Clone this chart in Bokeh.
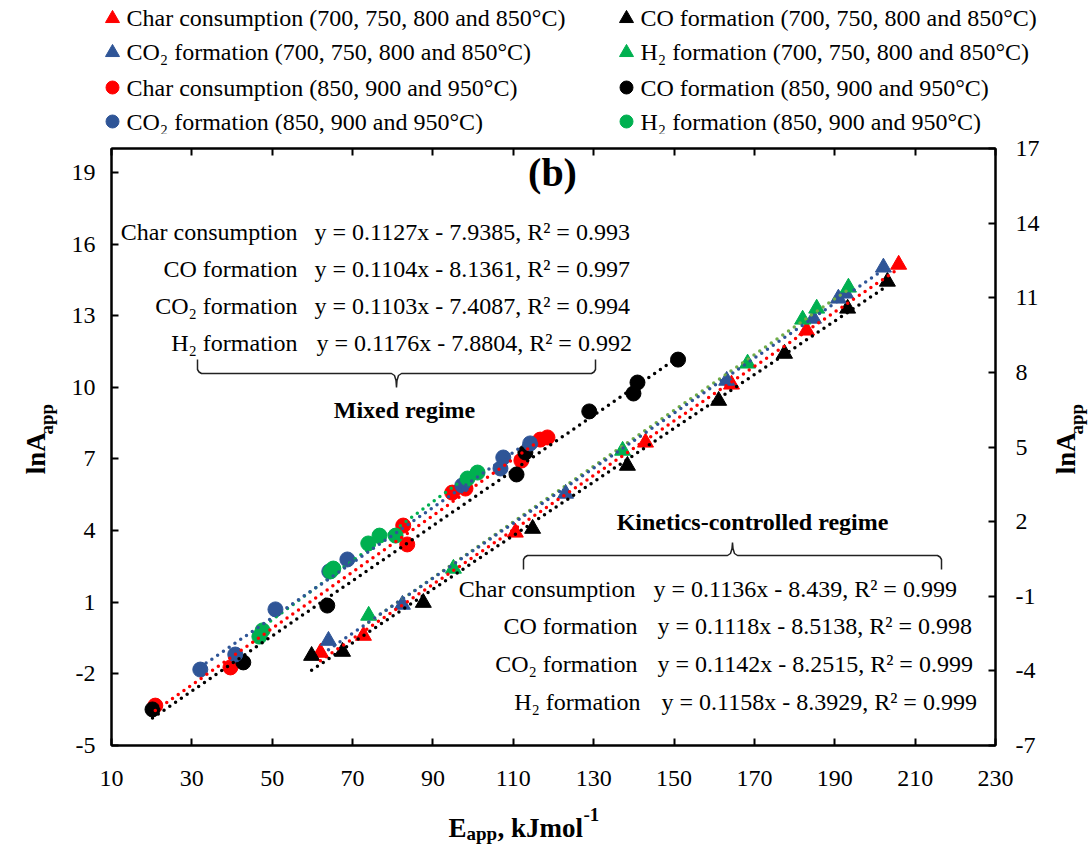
import numpy as np
from bokeh.plotting import figure
from bokeh.layouts import column, row
from bokeh.models import (Range1d, LinearAxis, FixedTicker, Label)
from bokeh.embed import file_html
from bokeh.resources import INLINE

# ---------------- data ----------------
# Kinetics-controlled regime (700, 750, 800 and 850 °C) -> triangles
char_t_x = [62.0, 72.7, 110.5, 142.9, 164.3, 183.0, 205.9]
char_t_y = [-1.11, -0.40, 3.92, 7.69, 10.12, 12.38, 15.14]
co_t_x = [59.8, 67.5, 87.6, 114.8, 138.4, 161.1, 177.5, 193.2, 203.1]
co_t_y = [-1.24, -1.07, 0.98, 4.08, 6.72, 9.44, 11.41, 13.30, 14.43]
co2_t_x = [64.0, 82.4, 123.0, 163.1, 184.7, 190.9, 192.7, 202.1]
co2_t_y = [-0.61, 0.90, 5.55, 10.28, 12.88, 13.72, 13.93, 15.02]
h2_t_x = [74.0, 95.1, 137.2, 168.3, 182.0, 185.5, 193.4]
h2_t_y = [0.44, 2.41, 7.35, 11.00, 12.84, 13.30, 14.18]

# Mixed regime (850, 900 and 950 °C) -> circles
char_c_x = [20.9, 39.6, 82.6, 83.6, 94.8, 98.1, 112.0, 116.7, 118.5]
char_c_y = [-3.33, -1.73, 4.21, 3.42, 5.59, 5.76, 6.93, 7.81, 7.90]
co_c_x = [20.2, 42.8, 63.7, 110.8, 113.0, 128.9, 139.9, 140.9, 151.0]
co_c_y = [-3.49, -1.52, 0.86, 6.35, 7.27, 8.99, 9.74, 10.20, 11.16]
co2_c_x = [32.1, 40.8, 50.8, 64.2, 68.7, 97.3, 106.8, 107.5, 114.2]
co2_c_y = [-1.82, -1.19, 0.70, 2.29, 2.79, 5.89, 6.60, 7.06, 7.65]
h2_c_x = [46.8, 47.6, 64.5, 65.2, 73.9, 76.7, 80.7, 98.6, 101.1]
h2_c_y = [-0.44, -0.18, 2.29, 2.41, 3.46, 3.79, 3.79, 6.18, 6.43]

# legend entries, in reading order (two columns)
legend_col1 = ["Char consumption (700, 750, 800 and 850°C)",
               "CO₂ formation (700, 750, 800 and 850°C)",
               "Char consumption (850, 900 and 950°C)",
               "CO₂ formation (850, 900 and 950°C)"]
legend_col2 = ["CO formation (700, 750, 800 and 850°C)",
               "H₂ formation (700, 750, 800 and 850°C)",
               "CO formation (850, 900 and 950°C)",
               "H₂ formation (850, 900 and 950°C)"]

species = ["Char consumption", "CO formation", "CO₂ formation", "H₂ formation"]
eq_mixed = ["y = 0.1127x - 7.9385, R² = 0.993",
            "y = 0.1104x - 8.1361, R² = 0.997",
            "y = 0.1103x - 7.4087, R² = 0.994",
            "y = 0.1176x - 7.8804, R² = 0.992"]
eq_kin = ["y = 0.1136x - 8.439, R² = 0.999",
          "y = 0.1118x - 8.5138, R² = 0.998",
          "y = 0.1142x - 8.2515, R² = 0.999",
          "y = 0.1158x - 8.3929, R² = 0.999"]

x_ticks = [10, 30, 50, 70, 90, 110, 130, 150, 170, 190, 210, 230]
y_left_ticks = [-5, -2, 1, 4, 7, 10, 13, 16, 19]
y_right_ticks = [-7, -4, -1, 2, 5, 8, 11, 14, 17]

# ---------------- styling ----------------
RED, BLACK, BLUE, GREEN, OLIVE = "#ff0000", "#000000", "#2f5597", "#00b050", "#70ad47"
FONT = "Liberation Serif"

W, H = 1091, 845
LEG_H = 134            # legend strip height
BOT_H = 45             # bottom title strip height
LEFT_W, RIGHT_W = 62, 41
MAIN_W = W - LEFT_W - RIGHT_W
MAIN_H = H - LEG_H - BOT_H
FL, FR, FT, FB = 111, 995, 148, 745  # frame edges in page pixels
X0, X1, Y0, Y1 = 10, 230, -5, 20


def px2x(px):
    return X0 + (px - FL) * (X1 - X0) / (FR - FL)


def py2y(py):
    return Y1 - (py - FT) * (Y1 - Y0) / (FB - FT)


p = figure(width=MAIN_W, height=MAIN_H, output_backend="svg", toolbar_location=None,
           x_range=Range1d(X0, X1), y_range=Range1d(Y0, Y1),
           min_border_left=FL - LEFT_W, min_border_right=(W - RIGHT_W) - FR,
           min_border_top=FT - LEG_H, min_border_bottom=(H - BOT_H) - FB)
p.extra_x_ranges = {"top": Range1d(X0, X1)}
p.extra_y_ranges = {"right": Range1d(-7, 17)}
p.grid.visible = False
p.outline_line_color = "black"
p.outline_line_width = 2
p.background_fill_color = "white"
p.border_fill_color = "white"


def style_axis(ax, ticks):
    ax.ticker = FixedTicker(ticks=ticks)
    ax.axis_line_width = 2
    ax.axis_line_color = "black"
    ax.major_tick_line_width = 2
    ax.major_tick_line_color = "black"
    ax.major_tick_in = 7
    ax.major_tick_out = 0
    ax.minor_tick_line_color = None
    ax.major_label_text_font = FONT
    ax.major_label_text_font_size = "24px"
    ax.major_label_text_color = "black"
    ax.major_label_overrides = {t: str(t) for t in ticks}


xb = p.xaxis[0]
style_axis(xb, x_ticks)
xb.major_label_standoff = 25

yl = p.yaxis[0]
style_axis(yl, y_left_ticks)
yl.major_label_standoff = 16

yr = LinearAxis(y_range_name="right")
style_axis(yr, y_right_ticks)
yr.major_label_standoff = 20
p.add_layout(yr, "right")

xt = LinearAxis(x_range_name="top")
style_axis(xt, x_ticks)
xt.major_label_overrides = {t: "" for t in x_ticks}
xt.major_label_text_font_size = "0px"
xt.major_label_standoff = 0
p.add_layout(xt, "above")

# ---------------- markers ----------------
TS, CS = 16, 15
p.scatter(char_t_x, char_t_y, marker="triangle", size=TS, color=RED)
p.scatter(co_t_x, co_t_y, marker="triangle", size=TS, color=BLACK)
p.scatter(co2_t_x, co2_t_y, marker="triangle", size=TS, color=BLUE)
p.scatter(h2_t_x, h2_t_y, marker="triangle", size=TS, color=GREEN)
p.scatter(char_c_x, char_c_y, marker="circle", size=CS, color=RED)
p.scatter(co_c_x, co_c_y, marker="circle", size=CS, color=BLACK)
p.scatter(co2_c_x, co2_c_y, marker="circle", size=CS, color=BLUE)
p.scatter(h2_c_x, h2_c_y, marker="circle", size=CS, color=GREEN)


# ---------------- dotted linear trendlines (fitted to the data) ----------------
def trend(xs, ys, color):
    k, b = np.polyfit(xs, ys, 1)
    xx = np.array([min(xs), max(xs)])
    p.line(xx, k * xx + b, line_color=color, line_width=3.5,
           line_dash="0 7", line_cap="round")


trend(h2_c_x, h2_c_y, GREEN)
trend(co2_c_x, co2_c_y, BLUE)
trend(char_c_x, char_c_y, RED)
trend(co_c_x, co_c_y, BLACK)
trend(h2_t_x, h2_t_y, OLIVE)
trend(co2_t_x, co2_t_y, BLUE)
trend(char_t_x, char_t_y, RED)
trend(co_t_x, co_t_y, BLACK)


# ---------------- braces ----------------
def brace(xl, xr, yline, yhook, ytip):
    xc = (xl + xr) / 2
    s = 1 if yhook < yline else -1
    pts = [(xl, yhook), (xl, yline - s * 4), (xl + 1.5, yline - s * 1.5), (xl + 4, yline),
           (xc - 5, yline), (xc - 2, yline + s * 2), (xc - 0.5, yline + s * 7), (xc, ytip),
           (xc + 0.5, yline + s * 7), (xc + 2, yline + s * 2), (xc + 5, yline),
           (xr - 4, yline), (xr - 1.5, yline - s * 1.5), (xr, yline - s * 4), (xr, yhook)]
    p.line([px2x(a) for a, _ in pts], [py2y(b) for _, b in pts],
           line_color="#222222", line_width=1.5)


brace(197, 595, 373, 359, 387)   # mixed regime
brace(523, 941, 555, 569, 542)   # kinetics regime


# ---------------- texts inside the frame ----------------
def lab(px, py, text, size="24px", align="left", bold=False):
    p.add_layout(Label(x=px2x(px), y=py2y(py), text=text, text_font=FONT,
                       text_font_size=size, text_align=align, text_baseline="middle",
                       text_font_style="bold" if bold else "normal", text_color="black"))


lab(552, 172, "(b)", size="40px", align="center", bold=True)

mixed_rows = [231, 268, 305, 342]
mixed_eq_x = [314, 314, 314, 316]
for i in range(4):
    lab(297, mixed_rows[i], species[i], align="right")
    lab(mixed_eq_x[i], mixed_rows[i], eq_mixed[i])
lab(404, 409, "Mixed regime", align="center", bold=True)

kin_rows = [588, 625, 663, 701]
kin_lab_x = [635, 637, 637, 640]
kin_eq_x = [653, 657, 657, 661]
for i in range(4):
    lab(kin_lab_x[i], kin_rows[i], species[i], align="right")
    lab(kin_eq_x[i], kin_rows[i], eq_kin[i])
lab(752, 521, "Kinetics-controlled regime", align="center", bold=True)


# ---------------- helper strips (legend, axis titles) ----------------
def strip(w, h):
    f = figure(width=w, height=h, x_range=Range1d(0, w), y_range=Range1d(h, 0),
               output_backend="svg", toolbar_location=None,
               x_axis_location=None, y_axis_location=None, min_border=0)
    f.grid.visible = False
    f.outline_line_color = None
    f.background_fill_color = "white"
    f.border_fill_color = "white"
    return f


def txt(f, x, y, s, size, bold=False, angle=0.0, align="left", baseline="alphabetic"):
    f.add_layout(Label(x=x, y=y, text=s, text_font=FONT, text_font_size=size,
                       text_font_style="bold" if bold else "normal", text_color="black",
                       text_align=align, text_baseline=baseline,
                       angle=angle, angle_units="deg"))


# legend strip
leg = strip(W, LEG_H)
leg_rows = [17, 51, 87, 121]
leg_markers1 = [("triangle", RED), ("triangle", BLUE), ("circle", RED), ("circle", BLUE)]
leg_markers2 = [("triangle", BLACK), ("triangle", GREEN), ("circle", BLACK), ("circle", GREEN)]
for (mx, tx, labels, marks) in ((112, 126, legend_col1, leg_markers1),
                                (626, 640, legend_col2, leg_markers2)):
    for i in range(4):
        mk, col = marks[i]
        leg.scatter([mx], [leg_rows[i] + (1 if mk == "triangle" else 0)], marker=mk,
                    size=14 if mk == "triangle" else 13, color=col)
        txt(leg, tx, leg_rows[i], labels[i], "24px", baseline="middle")

# left title strip (lnA_app, rotated, centred anchors)
left = strip(LEFT_W, MAIN_H)
txt(left, 35, 474 - LEG_H, "lnA", "27px", bold=True, angle=90, align="center", baseline="middle")
txt(left, 46, 436 - LEG_H, "app", "19px", bold=True, angle=90, align="center", baseline="middle")

# right title strip
right = strip(RIGHT_W, MAIN_H)
txt(right, 1065 - (W - RIGHT_W), 474 - LEG_H, "lnA", "27px", bold=True, angle=90,
    align="center", baseline="middle")
txt(right, 1076 - (W - RIGHT_W), 436 - LEG_H, "app", "19px", bold=True, angle=90,
    align="center", baseline="middle")

# bottom title strip
bot = strip(W, BOT_H)
y0 = H - BOT_H
txt(bot, 448, 827 - y0, "E", "27px", bold=True)
txt(bot, 466, 833 - y0, "app", "19px", bold=True)
txt(bot, 497, 827 - y0, ", kJmol", "27px", bold=True)
txt(bot, 583, 814 - y0, "-1", "19px", bold=True)

layout = column(leg, row(left, p, right), bot)
open("out.html", "w").write(file_html(layout, INLINE))
